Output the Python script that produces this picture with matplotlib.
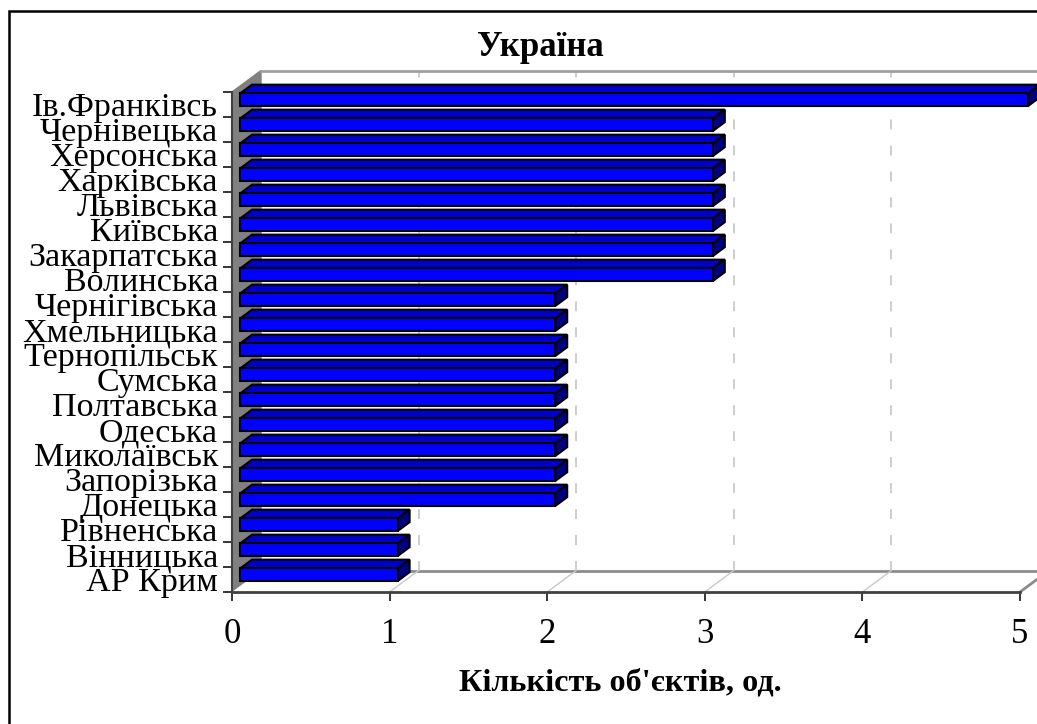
import matplotlib
matplotlib.use('Agg')
import matplotlib.pyplot as plt
from matplotlib.patches import Polygon, Rectangle

plt.rcParams['font.family'] = ['Liberation Serif', 'DejaVu Serif']

# дані (знизу вгору)
regions = ['АР Крим', 'Вінницька', 'Рівненська', 'Донецька', 'Запорізька',
           'Миколаївськ', 'Одеська', 'Полтавська', 'Сумська', 'Тернопільськ',
           'Хмельницька', 'Чернігівська', 'Волинська', 'Закарпатська', 'Київська',
           'Львівська', 'Харківська', 'Херсонська', 'Чернівецька', 'Ів.Франківсь']
counts = [1, 1, 1, 2, 2, 2, 2, 2, 2, 2, 2, 2, 3, 3, 3, 3, 3, 3, 3, 5]
xticks = [0, 1, 2, 3, 4, 5]

W, H = 1037, 724
fig = plt.figure(figsize=(W / 100, H / 100), dpi=100)
fig.patch.set_facecolor('white')

# передня площина осей: x=0..5 -> 232..1020 px, категорії 92..592 px
ax = fig.add_axes([232 / W, (H - 592) / H, (1020 - 232) / W, 500 / H])
n = len(regions)
xmax = 5
ax.set_xlim(0, xmax)
ax.set_ylim(0, n)
ax.set_facecolor('none')

# вектор глибини (псевдо-3D)
DX = 29 / 157.6
DY = 21.5 / 25

# ліва стінка
ax.add_patch(Polygon([(0, 0), (DX, DY), (DX, n + DY), (0, n)], closed=True,
                     facecolor='#808080', edgecolor='#808080', lw=1, clip_on=False, zorder=1))
# підлога
ax.add_patch(Polygon([(0, 0), (xmax, 0), (xmax + DX, DY), (DX, DY)], closed=True,
                     facecolor='white', edgecolor='none', clip_on=False, zorder=1))
ax.plot([DX, xmax + DX], [DY, DY], color='#8c8c8c', lw=2, clip_on=False, zorder=2)
ax.plot([xmax, xmax + DX], [0, DY], color='#8c8c8c', lw=2, clip_on=False, zorder=2)
for t in xticks[1:-1]:
    ax.plot([t, t + DX], [0, DY], color='#c8c8c8', lw=1, clip_on=False, zorder=2)
    # сітка на задній стінці
    ax.plot([t + DX, t + DX], [DY, n + DY], color='#c0c0c0', lw=1.1,
            linestyle=(0, (6.5, 10.5)), clip_on=False, zorder=2)
# верхній край задньої стінки
ax.plot([DX, xmax + DX + 0.2], [n + DY, n + DY], color='#a0a0a0', lw=2, clip_on=False, zorder=2)

# бруски
f0, fd = 0.28, 0.41
ox, oy = f0 * DX, f0 * DY
bx, by = fd * DX, fd * DY
y0 = [i + 0.2 + oy for i in range(n)]
ax.barh(y0, counts, height=0.5, left=ox, align='edge', color='#0000ff',
        edgecolor='black', linewidth=1.5, zorder=4, clip_on=False)
for yb, v in zip(y0, counts):
    yt = yb + 0.5
    top = [(ox, yt), (ox + v, yt), (ox + v + bx, yt + by), (ox + bx, yt + by)]
    side = [(ox + v, yb), (ox + v + bx, yb + by), (ox + v + bx, yt + by), (ox + v, yt)]
    ax.add_patch(Polygon(top, closed=True, facecolor='#0000c8', edgecolor='black',
                         lw=1.5, clip_on=False, zorder=3))
    ax.add_patch(Polygon(side, closed=True, facecolor='#000080', edgecolor='black',
                         lw=1.5, clip_on=False, zorder=3))

# осі
for s in ['top', 'right']:
    ax.spines[s].set_visible(False)
ax.spines['left'].set_color('#404040')
ax.spines['left'].set_linewidth(1.5)
ax.spines['bottom'].set_color('#404040')
ax.spines['bottom'].set_linewidth(2)
ax.spines['bottom'].set_zorder(5)

ax.set_xticks(xticks)
ax.set_xticklabels([str(t) for t in xticks], fontsize=25)
ax.tick_params(axis='x', direction='out', length=6.5, width=1.1, color='black', pad=12)

ax.set_yticks([i + 0.5 for i in range(n)])
ax.set_yticklabels(regions, fontsize=24.5)
ax.set_yticks(range(n + 1), minor=True)
ax.tick_params(axis='y', which='major', length=0, pad=10)
ax.tick_params(axis='y', which='minor', direction='out', length=6.5, width=1.1, color='black')

fig.text(540 / W, 1 - 47 / H, 'Україна', ha='center', va='center',
         fontsize=25, fontweight='bold')
fig.text(620 / W, 1 - 683 / H, "Кількість об'єктів, од.", ha='center', va='center',
         fontsize=23.2, fontweight='bold')

# рамка
fig.add_artist(Rectangle((9 / W, -0.1), 1.2, (H - 11) / H + 0.1, transform=fig.transFigure,
                         fill=False, edgecolor='black', lw=1.8))

fig.savefig('out.png', dpi=100)
